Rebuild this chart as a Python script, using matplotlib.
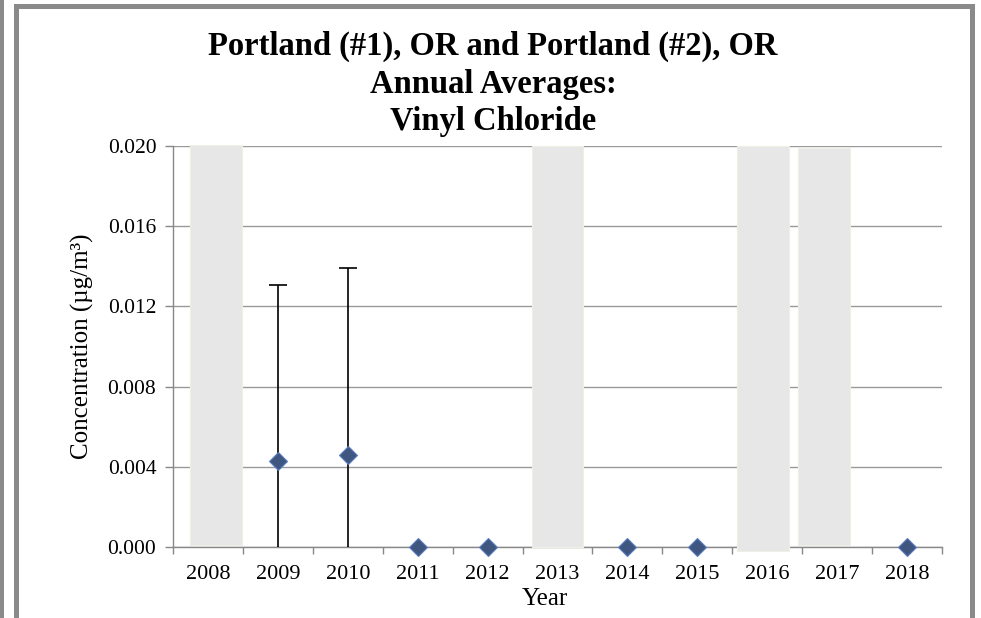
import matplotlib.pyplot as plt
from matplotlib.patches import Rectangle

# category axis
years = ['2008', '2009', '2010', '2011', '2012', '2013', '2014', '2015', '2016', '2017', '2018']

# annual averages (None = no average for that year)
avg_values = [None, 0.00430, 0.00459, 0.0, 0.0, None, 0.0, 0.0, None, None, 0.0]
err_upper = [None, 0.01305, 0.01390, None, None, None, None, None, None, None, None]

# shaded "no data" years: (year, bottom, top)
shaded_years = ['2008', '2013', '2016', '2017']
shaded_bottom = [0.0001, 0.0, -0.0002, 0.0001]
shaded_top = [0.02005, 0.02, 0.02, 0.0199]
shaded_shift = [0.11, 0.0, -0.06, -0.19]

W, H = 981, 618
fig = plt.figure(figsize=(W / 100, H / 100), dpi=100)
plt.rcParams['font.family'] = ['Liberation Serif', 'DejaVu Serif']

# outer frame
fig.patches.append(Rectangle((0, 0), 4 / W, 1, transform=fig.transFigure,
                             facecolor='#8a8a8a', edgecolor='none'))
fig.patches.append(Rectangle((15.5 / W, -0.01), (972 - 15.5) / W, (H - 6.5) / H + 0.01,
                             transform=fig.transFigure, facecolor='none',
                             edgecolor='#8a8a8a', linewidth=3.6))

ax = fig.add_axes([173 / W, (H - 547) / H, 769 / W, 401 / H])

x = list(range(len(years)))

# gray bars
for yr, b, t, s in zip(shaded_years, shaded_bottom, shaded_top, shaded_shift):
    i = years.index(yr)
    ax.bar(i + s, t - b, bottom=b, width=0.74, color='#e7e7e7',
           edgecolor='#efefe6', linewidth=0.8, zorder=3, clip_on=False)

# error bars: line from zero up to the upper limit, cap only on top
for i, e in enumerate(err_upper):
    if e is not None:
        ax.vlines(i, 0, e, color='black', linewidth=1.2, zorder=4)
        ax.plot(i, e, marker='_', markersize=13, markeredgewidth=1.2,
                color='black', zorder=4)

# averages
px = [i for i, v in enumerate(avg_values) if v is not None]
py = [v for v in avg_values if v is not None]
ax.plot(px, py, linestyle='none', marker='D', markersize=9,
        markerfacecolor='#3f5780', markeredgecolor='#5b7ec0',
        markeredgewidth=0.8, zorder=5, clip_on=False)

ax.set_xlim(-0.5, len(years) - 0.5)
ax.set_ylim(0, 0.020)
ax.set_yticks([0.0, 0.004, 0.008, 0.012, 0.016, 0.020])
ax.set_yticklabels(['%.3f' % v for v in [0.0, 0.004, 0.008, 0.012, 0.016, 0.020]])
ax.set_xticks(x)
ax.set_xticklabels(years)
ax.set_xticks([i - 0.5 for i in range(len(years) + 1)], minor=True)
ax.tick_params(axis='x', which='major', length=0, pad=13, labelsize=16)
ax.tick_params(axis='x', which='minor', length=5, width=1, color='#888888', direction='out')
ax.tick_params(axis='y', length=6, width=1, color='#888888', labelsize=15.5, pad=6)

ax.grid(axis='y', color='#999999', linewidth=1)
ax.set_axisbelow(True)
for side in ['top', 'right']:
    ax.spines[side].set_visible(False)
for side in ['left', 'bottom']:
    ax.spines[side].set_color('#888888')
    ax.spines[side].set_linewidth(1)
    ax.spines[side].set_zorder(2)

ax.set_ylabel('Concentration (µg/m³)', fontsize=18, labelpad=10)
fig.text(545 / W, 1 - 599 / H, 'Year', fontsize=18, ha='center', va='center')

fig.text(493 / W, 1 - 84 / H,
         'Portland (#1), OR and Portland (#2), OR\nAnnual Averages:\nVinyl Chloride',
         fontsize=23.5, fontweight='bold', ha='center', va='center', linespacing=1.28)

fig.savefig('out.png', dpi=100)
